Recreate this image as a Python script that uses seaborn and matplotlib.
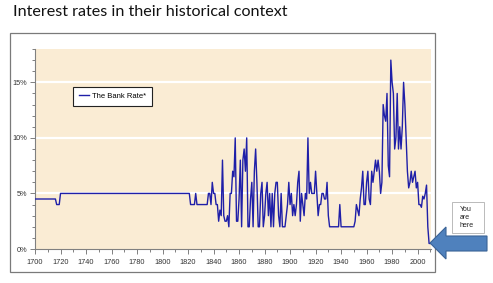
import matplotlib
matplotlib.use("Agg")
import matplotlib.pyplot as plt
from matplotlib.patches import Rectangle, Polygon
from matplotlib.ticker import FuncFormatter, MultipleLocator
import seaborn as sns
import pandas as pd

# ---- data ----
early_years = [1700, 1716, 1717, 1719, 1720, 1821]
early_rates = [4.5, 4.5, 4.0, 4.0, 5.0, 5.0]

annual_start = 1822
annual_rates = [
    # 1822-1839
    4, 4, 4, 4, 5, 4, 4, 4, 4, 4, 4, 4, 4, 4, 5, 5, 4, 6,
    # 1840-1859
    5, 5, 4, 4, 2.5, 3.5, 3, 8, 3, 2.5, 2.5, 3, 2, 5, 5, 7, 6.5, 10, 2.5, 2.5,
    # 1860-1879
    4.5, 8, 2, 8, 9, 7, 10, 2, 2, 4.5, 6, 2, 7, 9, 6, 2, 2, 5, 6, 2,
    # 1880-1899
    3, 5, 6, 3, 5, 2, 5, 2, 5, 6, 6, 3, 2, 5, 2, 2, 2, 3, 4, 6,
    # 1900-1919
    4, 5, 3, 4, 3, 4, 6, 7, 2.5, 5, 4, 3, 5, 4.5, 10, 5, 6, 5, 5, 5,
    # 1920-1939
    7, 5, 3, 4, 4, 5, 5, 4.5, 4.5, 6, 3, 2, 2, 2, 2, 2, 2, 2, 2, 4,
    # 1940-1959
    2, 2, 2, 2, 2, 2, 2, 2, 2, 2, 2, 2.5, 4, 3.5, 3, 4.5, 5.5, 7, 4, 4,
    # 1960-1979
    6, 7, 4.5, 4, 7, 6, 7, 8, 7, 8, 7, 5, 6, 13, 12, 11.5, 14, 7.5, 6.5, 17,
    # 1980-1999
    15, 14, 9, 10, 14, 9, 11, 9, 11, 15, 13, 10, 7, 5.5, 6, 7, 6, 6.5, 7, 5.5,
    # 2000-2010
    6, 4, 4, 3.75, 4.75, 4.5, 5, 5.75, 2, 0.5, 0.5,
]
annual_years = list(range(annual_start, annual_start + len(annual_rates)))

series_label = "The Bank Rate*"
title_text = "Interest rates in their historical context"
x_tick_labels = list(range(1700, 2001, 20))
y_tick_values = [0, 5, 10, 15]

df = pd.DataFrame({
    "year": early_years + annual_years,
    "rate": early_rates + annual_rates,
})

# ---- figure ----
W, H = 493, 283
fig = plt.figure(figsize=(W / 100, H / 100), dpi=100)
fig.patch.set_facecolor("white")

def fx(px):
    return px / W

def fy(py):
    return 1 - py / H

# outer chart frame
fig.patches.append(Rectangle((fx(10), fy(272)), fx(435) - fx(10), fy(33) - fy(272),
                             transform=fig.transFigure, fill=False,
                             edgecolor="#7a7a7a", linewidth=0.9, zorder=0))

ax = fig.add_axes([fx(35), fy(249), fx(431) - fx(35), fy(49) - fy(249)])
ax.set_facecolor("#FAECD4")

narrow = ["Liberation Sans Narrow", "Liberation Sans", "DejaVu Sans"]

sns.lineplot(data=df, x="year", y="rate", ax=ax, color="#1f1fa8",
             linewidth=1.0, label=series_label, zorder=3)

ax.set_xlim(1700, 2010.5)
ax.set_ylim(0, 18)
for v in [5, 10, 15]:
    ax.axhline(v, color="white", linewidth=1.6, zorder=1)

ax.set_xticks(x_tick_labels)
ax.set_xticklabels([str(t) for t in x_tick_labels], family=narrow, fontsize=5.3, color="#333333")
ax.xaxis.set_minor_locator(MultipleLocator(10))
ax.set_yticks(y_tick_values)
ax.yaxis.set_major_formatter(FuncFormatter(lambda v, p: f"{int(v)}%"))
for lab in ax.get_yticklabels():
    lab.set_family(narrow)
    lab.set_fontsize(5.3)
    lab.set_color("#333333")
ax.yaxis.set_minor_locator(MultipleLocator(1))
ax.tick_params(axis="both", which="both", direction="out", color="#808080", width=0.7)
ax.tick_params(axis="both", which="major", length=3.5, pad=2)
ax.tick_params(axis="both", which="minor", length=2.5)
ax.tick_params(axis="x", pad=4)

for s in ["top", "right"]:
    ax.spines[s].set_visible(False)
for s in ["left", "bottom"]:
    ax.spines[s].set_color("#808080")
    ax.spines[s].set_linewidth(0.8)
ax.set_xlabel("")
ax.set_ylabel("")

leg = ax.legend(loc="upper left", bbox_to_anchor=((73 - 35) / 396, (249 - 87) / 200),
                borderaxespad=0, frameon=True, fancybox=False, handlelength=1.4,
                handletextpad=0.3, borderpad=0.75, prop={"family": narrow, "size": 5.5})
leg.get_frame().set_edgecolor("#222222")
leg.get_frame().set_linewidth(0.8)
leg.get_frame().set_facecolor("white")
leg.get_frame().set_alpha(1)

fig.text(fx(13), fy(12), title_text, fontsize=11.6, family=["Lato", "DejaVu Sans"],
         ha="left", va="center", color="#111111")

# "You are here" box
fig.patches.append(Rectangle((fx(452), fy(233)), fx(484) - fx(452), fy(202) - fy(233),
                             transform=fig.transFigure, facecolor="white",
                             edgecolor="#b0b0b0", linewidth=0.6, zorder=2))
fig.text(fx(460), fy(217.5), "You\nare\nhere", fontsize=5, family=["Liberation Sans", "DejaVu Sans"],
         ha="left", va="center", linespacing=1.25, color="#222222")

# block arrow pointing at the present
arrow_px = [(430, 243), (446, 227), (446, 236), (487, 236), (487, 251), (446, 251), (446, 259)]
fig.patches.append(Polygon([(fx(a), fy(b)) for a, b in arrow_px], closed=True,
                           transform=fig.transFigure, facecolor="#4F81BD",
                           edgecolor="#3a6396", linewidth=0.8, zorder=4))

fig.savefig("out.png", dpi=100)
